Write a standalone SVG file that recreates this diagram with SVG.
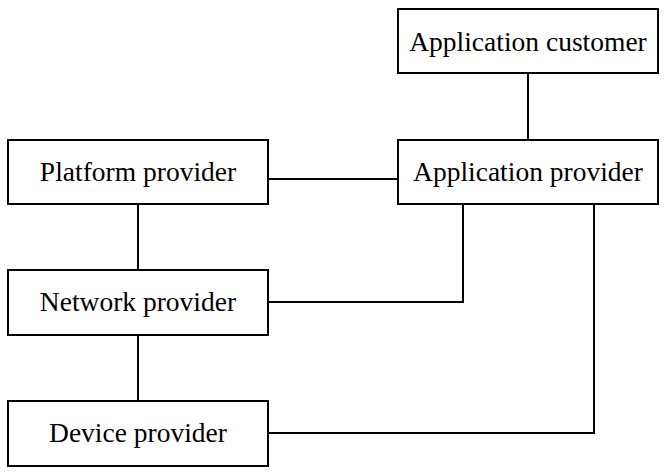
<svg xmlns="http://www.w3.org/2000/svg" width="668" height="472" viewBox="0 0 668 472">
<style>
rect{fill:#fff;stroke:#000;stroke-width:2}
text{font-family:'Liberation Serif','Times New Roman',serif;font-size:27.5px;fill:#000;text-anchor:middle}
.c line,.c polyline{stroke:#000;stroke-width:2;fill:none}
</style>
<rect x="0" y="0" width="668" height="472" style="stroke:none"/>
<g class="c" id="connectors">
<line x1="528" y1="73" x2="528" y2="140"/>
<line x1="268" y1="179" x2="398" y2="179"/>
<line x1="138" y1="204" x2="138" y2="270"/>
<line x1="138" y1="335" x2="138" y2="401"/>
<polyline points="268,302 463,302 463,204"/>
<polyline points="268,433 594,433 594,204"/>
</g>
<g id="app-customer"><rect x="398" y="9" width="260" height="64"/><text x="528" y="51">Application customer</text></g>
<g id="app-provider"><rect x="398" y="140" width="260" height="64"/><text x="528" y="181">Application provider</text></g>
<g id="platform-provider"><rect x="8" y="140" width="260" height="64"/><text x="138" y="181">Platform provider</text></g>
<g id="network-provider"><rect x="8" y="270" width="260" height="65"/><text x="138" y="311">Network provider</text></g>
<g id="device-provider"><rect x="8" y="401" width="260" height="65"/><text x="138" y="442">Device provider</text></g>
</svg>
